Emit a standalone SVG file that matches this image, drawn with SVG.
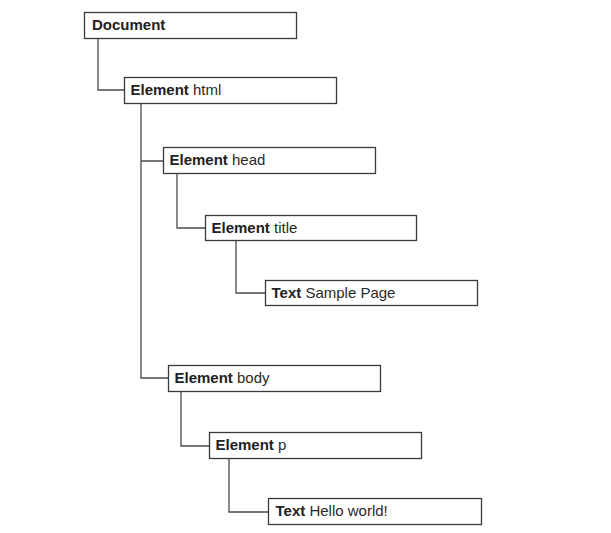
<svg xmlns="http://www.w3.org/2000/svg" width="611" height="533" viewBox="0 0 611 533">
<style>
.box{fill:#fff;stroke:#3a3a3a;stroke-width:1.3}
.lbl{font-family:"Liberation Sans",Arial,sans-serif;font-size:15px;fill:#2a2a2a}
.b{font-weight:bold;fill:#222}
.conn{fill:none;stroke:#4a4a4a;stroke-width:1.3}
</style>
<rect width="611" height="533" fill="#fff"/>
<g id="connectors">
<path class="conn" d="M98 38 V90 H124"/>
<path class="conn" d="M141 103 V378 H168 M141 161 H163"/>
<path class="conn" d="M177 174 V228 H205"/>
<path class="conn" d="M236 241 V293 H265"/>
<path class="conn" d="M181 392 V446 H209"/>
<path class="conn" d="M229 459 V512 H268"/>
</g>
<g id="document"><rect class="box" x="84.5" y="12.5" width="212" height="26"/><text class="lbl b" x="92" y="30">Document</text></g>
<g id="html"><rect class="box" x="124.5" y="77.5" width="212" height="26"/><text class="lbl" x="130.5" y="95"><tspan class="b">Element</tspan> html</text></g>
<g id="head"><rect class="box" x="163.5" y="147.5" width="212" height="26"/><text class="lbl" x="169.5" y="165"><tspan class="b">Element</tspan> head</text></g>
<g id="title"><rect class="box" x="205.5" y="215.5" width="211" height="25"/><text class="lbl" x="211.5" y="233"><tspan class="b">Element</tspan> title</text></g>
<g id="text-sample"><rect class="box" x="265.5" y="280.5" width="212" height="25"/><text class="lbl" x="271.5" y="298"><tspan class="b">Text</tspan> Sample Page</text></g>
<g id="body"><rect class="box" x="168.5" y="365.5" width="212" height="26"/><text class="lbl" x="174.5" y="383"><tspan class="b">Element</tspan> body</text></g>
<g id="p"><rect class="box" x="209.5" y="432.5" width="212" height="26"/><text class="lbl" x="215.5" y="450"><tspan class="b">Element</tspan> p</text></g>
<g id="text-hello"><rect class="box" x="268.5" y="498.5" width="213" height="26"/><text class="lbl" x="275.5" y="516"><tspan class="b">Text</tspan> Hello world!</text></g>
</svg>
